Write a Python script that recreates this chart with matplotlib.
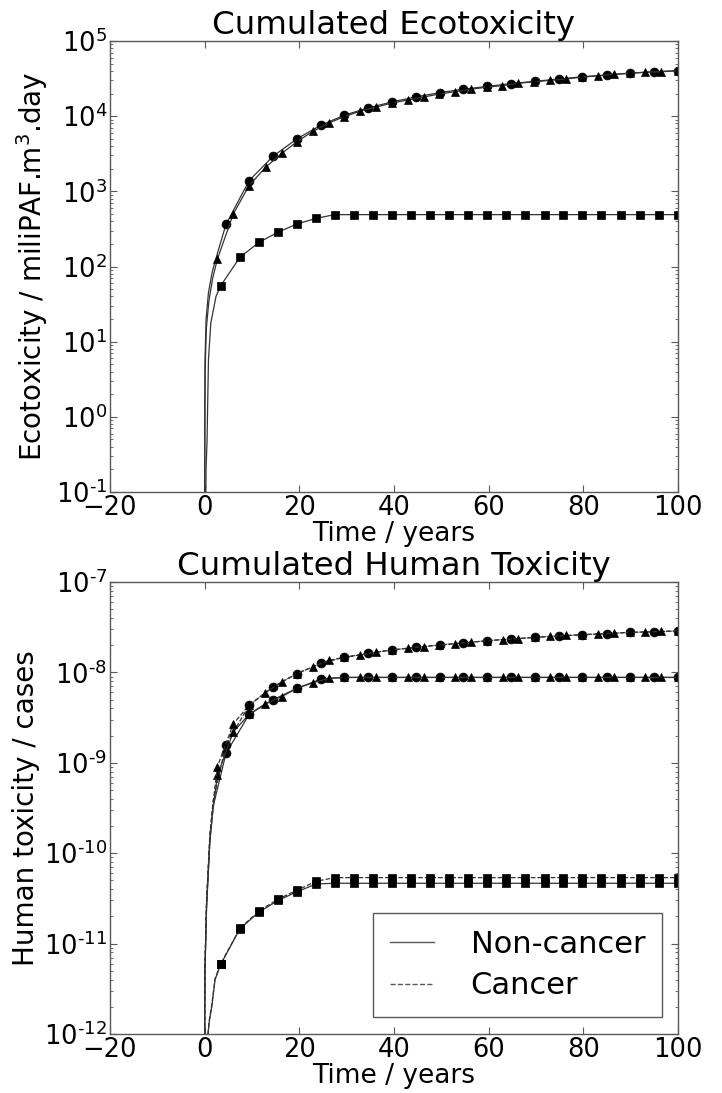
import matplotlib
matplotlib.use("Agg")
import numpy as np
import matplotlib.pyplot as plt
from matplotlib.lines import Line2D
from matplotlib.ticker import FuncFormatter

# ---------------- Data: Cumulated Ecotoxicity ----------------
eco_circle_t = [0.0, 0.03, 0.08, 0.3, 0.8, 1.6, 2.7, 4.5, 9.4, 14.5, 19.5, 24.6, 29.5, 34.6,
                39.6, 44.6, 49.7, 54.6, 59.7, 64.7, 69.8, 74.8, 79.8, 84.9, 89.8, 94.9, 99.9]
eco_circle_v = [0.1, 1.0, 6, 20, 45, 85, 150, 363, 1390, 2950, 5000, 7600, 10300, 12900,
                15500, 18000, 20600, 22800, 24900, 27100, 29100, 31200, 33500, 35300, 37200, 39100, 40300]
eco_circle_m0 = 7

eco_tri_t = [0.0, 0.04, 0.1, 0.35, 0.9, 1.7, 2.7, 6.05, 9.36, 12.9, 16.3, 19.5, 22.9, 26.2,
             29.5, 32.9, 36.2, 39.6, 42.9, 46.3, 49.6, 52.9, 56.2, 59.6, 62.9, 66.3, 69.6, 73.0,
             76.4, 79.8, 83.1, 86.4, 89.8, 93.1, 96.5, 99.9]
eco_tri_v = [0.1, 0.8, 4, 15, 35, 70, 126, 500, 1190, 2100, 3200, 4580, 6300, 8100,
             9850, 11700, 13200, 15000, 16400, 18000, 19700, 21200, 22800, 24300, 25500, 27400, 28700, 30000,
             31200, 33200, 34300, 36100, 37300, 38400, 39100, 40000]
eco_tri_m0 = 6

eco_sq_t = [0.25, 0.3, 0.5, 0.8, 1.3, 2.4, 3.4, 7.46, 11.5, 15.5, 19.5, 23.6, 27.5, 31.5, 35.6,
            39.6, 43.6, 47.6, 51.7, 55.7, 59.7, 63.7, 67.7, 71.8, 75.8, 79.8, 83.8, 87.9, 91.9, 95.9, 99.9]
eco_sq_v = [0.1, 0.21, 0.47, 5.7, 17.8, 40, 55.7, 133, 210, 286, 368, 438, 490, 490, 490,
            490, 490, 490, 490, 490, 490, 490, 490, 490, 490, 490, 490, 490, 490, 490, 490]
eco_sq_m0 = 6

# ---------------- Data: Cumulated Human Toxicity ----------------
hum_circle_t = [0.0, 0.05, 0.4, 1.1, 1.8, 4.5, 9.4, 14.5, 19.5, 24.6, 29.5, 34.6, 39.6, 44.6,
                49.7, 54.6, 59.7, 64.7, 69.8, 74.8, 79.8, 84.9, 89.8, 94.9, 99.9]
hum_circle_nc = [1e-12, 4.7e-12, 2.6e-11, 1.4e-10, 3.3e-10, 1.27e-9, 3.44e-9, 5.0e-9, 6.67e-9, 8.45e-9,
                 8.8e-9, 8.8e-9, 8.8e-9, 8.8e-9, 8.8e-9, 8.8e-9, 8.8e-9, 8.8e-9, 8.8e-9, 8.8e-9,
                 8.8e-9, 8.8e-9, 8.8e-9, 8.8e-9, 8.8e-9]
hum_circle_c = [1e-12, 5.5e-12, 3.0e-11, 1.6e-10, 3.8e-10, 1.58e-9, 4.33e-9, 6.95e-9, 9.7e-9, 1.26e-8,
                1.47e-8, 1.63e-8, 1.77e-8, 1.89e-8, 2.01e-8, 2.12e-8, 2.24e-8, 2.34e-8, 2.44e-8, 2.53e-8,
                2.61e-8, 2.69e-8, 2.77e-8, 2.82e-8, 2.87e-8]
hum_circle_m0 = 5

hum_tri_t = [0.0, 0.05, 0.4, 1.1, 1.8, 2.7, 6.05, 9.4, 12.8, 16.3, 19.5, 22.9, 26.2, 29.5, 32.9,
             36.2, 39.6, 42.9, 46.3, 49.6, 52.9, 56.3, 59.6, 63.0, 66.3, 69.7, 73.0, 76.4, 79.8,
             83.1, 86.4, 89.8, 93.1, 96.5, 99.9]
hum_tri_nc = [1e-12, 4.5e-12, 2.5e-11, 1.35e-10, 3.2e-10, 7.3e-10, 2.2e-9, 3.44e-9, 4.5e-9, 5.4e-9,
              6.67e-9, 7.69e-9, 8.6e-9, 8.8e-9, 8.8e-9, 8.8e-9, 8.8e-9, 8.8e-9, 8.8e-9, 8.8e-9,
              8.8e-9, 8.8e-9, 8.8e-9, 8.8e-9, 8.8e-9, 8.8e-9, 8.8e-9, 8.8e-9, 8.8e-9, 8.8e-9,
              8.8e-9, 8.8e-9, 8.8e-9, 8.8e-9, 8.8e-9]
hum_tri_c = [1e-12, 5.2e-12, 2.9e-11, 1.55e-10, 3.7e-10, 9.06e-10, 2.7e-9, 4.33e-9, 5.97e-9, 7.83e-9,
             9.7e-9, 1.156e-8, 1.36e-8, 1.47e-8, 1.56e-8, 1.68e-8, 1.77e-8, 1.85e-8, 1.93e-8, 2.01e-8,
             2.08e-8, 2.16e-8, 2.24e-8, 2.31e-8, 2.37e-8, 2.44e-8, 2.50e-8, 2.56e-8, 2.61e-8, 2.66e-8,
             2.72e-8, 2.77e-8, 2.80e-8, 2.84e-8, 2.87e-8]
hum_tri_m0 = 5

hum_sq_t = [0.7, 1.0, 1.5, 2.2, 3.4, 7.46, 11.5, 15.5, 19.5, 23.6, 27.5, 31.5, 35.6, 39.6, 43.6,
            47.6, 51.7, 55.7, 59.7, 63.7, 67.7, 71.8, 75.8, 79.8, 83.8, 87.9, 91.9, 95.9, 99.9]
hum_sq_nc = [1e-12, 1.4e-12, 2.0e-12, 4.0e-12, 5.9e-12, 1.46e-11, 2.24e-11, 3.0e-11, 3.75e-11, 4.57e-11,
             4.65e-11, 4.65e-11, 4.65e-11, 4.65e-11, 4.65e-11, 4.65e-11, 4.65e-11, 4.65e-11, 4.65e-11,
             4.65e-11, 4.65e-11, 4.65e-11, 4.65e-11, 4.65e-11, 4.65e-11, 4.65e-11, 4.65e-11, 4.65e-11, 4.65e-11]
hum_sq_c = [1e-12, 1.45e-12, 2.1e-12, 4.1e-12, 6.0e-12, 1.48e-11, 2.3e-11, 3.1e-11, 3.9e-11, 4.9e-11,
            5.37e-11, 5.37e-11, 5.37e-11, 5.37e-11, 5.37e-11, 5.37e-11, 5.37e-11, 5.37e-11, 5.37e-11,
            5.37e-11, 5.37e-11, 5.37e-11, 5.37e-11, 5.37e-11, 5.37e-11, 5.37e-11, 5.37e-11, 5.37e-11, 5.37e-11]
hum_sq_m0 = 4

legend_labels = ["Non-cancer", "Cancer"]
x_ticks = [-20, 0, 20, 40, 60, 80, 100]

# ---------------- Plot ----------------
plt.rcParams['font.family'] = ['DejaVu Sans']
W, H = 722, 1093
fig = plt.figure(figsize=(W / 100, H / 100), dpi=100)
fig.patch.set_facecolor('white')

ax1 = fig.add_axes([110 / W, (H - 492) / H, 568 / W, 451 / H])
ax2 = fig.add_axes([110 / W, (H - 1034) / H, 568 / W, 452 / H])

LC = '0.2'
LW = 0.9
MS = 6.4

def series(ax, t, v, marker, m0, ls='-'):
    ax.plot(t, v, color=LC, lw=LW, ls=ls, marker=marker, markevery=slice(m0, None),
            ms=MS, mfc='k', mec='k', mew=0.5)

series(ax1, eco_circle_t, eco_circle_v, 'o', eco_circle_m0)
series(ax1, eco_tri_t, eco_tri_v, '^', eco_tri_m0)
series(ax1, eco_sq_t, eco_sq_v, 's', eco_sq_m0)

series(ax2, hum_circle_t, hum_circle_nc, 'o', hum_circle_m0, '-')
series(ax2, hum_circle_t, hum_circle_c, 'o', hum_circle_m0, '--')
series(ax2, hum_tri_t, hum_tri_nc, '^', hum_tri_m0, '-')
series(ax2, hum_tri_t, hum_tri_c, '^', hum_tri_m0, '--')
series(ax2, hum_sq_t, hum_sq_nc, 's', hum_sq_m0, '-')
series(ax2, hum_sq_t, hum_sq_c, 's', hum_sq_m0, '--')


def log_fmt(v, pos):
    e = int(round(np.log10(v)))
    s = str(e).replace('-', '\u2010')
    return '$\\mathdefault{10^{%s}}$' % s


for ax in (ax1, ax2):
    ax.set_yscale('log')
    ax.set_xlim(-20, 100)
    ax.set_xticks(x_ticks)
    ax.yaxis.set_major_formatter(FuncFormatter(log_fmt))
    ax.tick_params(which='both', direction='in', top=True, right=True,
                   labelsize=18.5, pad=2, color='0.35')
    ax.tick_params(which='major', length=5)
    ax.tick_params(which='minor', length=2.5)
    for s in ax.spines.values():
        s.set_color('0.35')
        s.set_linewidth(1.0)
    ax.set_xlabel('Time / years', fontsize=19, labelpad=0)

ax1.set_ylim(1e-1, 1e5)
ax2.set_ylim(1e-12, 1e-7)

ax1.set_ylabel('Ecotoxicity / miliPAF.m$^3$.day', fontsize=20, labelpad=4)
ax2.set_ylabel('Human toxicity / cases', fontsize=20, labelpad=3)
ax1.set_title('Cumulated Ecotoxicity', fontsize=23.3, pad=1.5)
ax2.set_title('Cumulated Human Toxicity', fontsize=23.3, pad=3.0)

handles = [Line2D([], [], color='0.35', lw=1.0, ls='-'),
           Line2D([], [], color='0.35', lw=1.0, ls='--')]
leg = ax2.legend(handles, legend_labels, loc='lower right', bbox_to_anchor=(0.972, 0.0376),
                 borderaxespad=0, fontsize=22, frameon=True, fancybox=False, framealpha=1,
                 borderpad=0.55, handlelength=1.45, handletextpad=1.2, labelspacing=0.4)
leg.get_frame().set_edgecolor('0.35')
leg.get_frame().set_linewidth(1.0)

fig.savefig('out.png', dpi=100, facecolor='white')
